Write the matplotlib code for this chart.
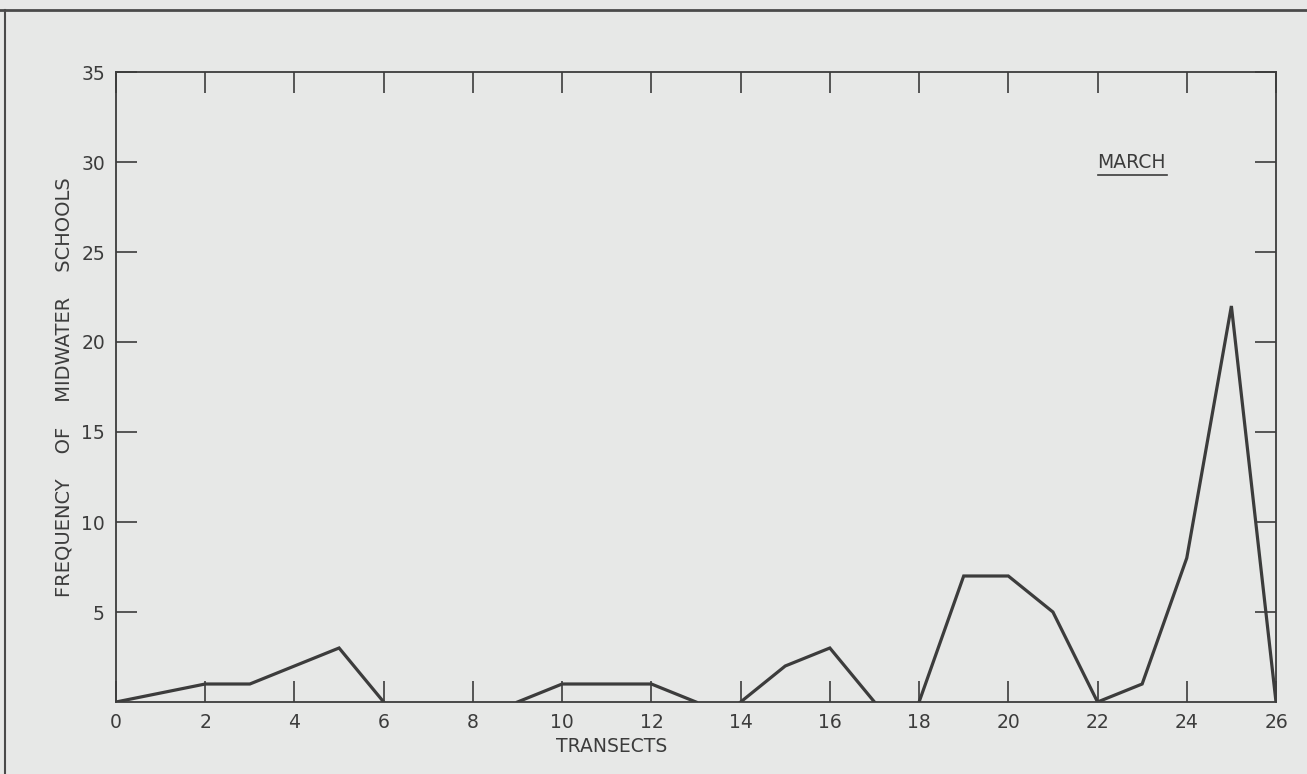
import matplotlib.pyplot as plt
from matplotlib.lines import Line2D

# Midwater school counts per transect, drawn as separate runs (gaps = no line)
seg_a_x = [0, 2, 3, 5, 6]
seg_a_y = [0, 1, 1, 3, 0]
seg_b_x = [9, 10, 12, 13]
seg_b_y = [0, 1, 1, 0]
seg_c_x = [14, 15, 16, 17]
seg_c_y = [0, 2, 3, 0]
seg_d_x = [18, 19, 20, 21, 22, 23, 24, 25, 26]
seg_d_y = [0, 7, 7, 5, 0, 1, 8, 22, 0]

x_ticks = list(range(0, 27, 2))
y_ticks = [5, 10, 15, 20, 25, 30, 35]

paper = "#e7e8e7"
ink = "#3c3c3c"

fig = plt.figure(figsize=(13.07, 7.74), dpi=100, facecolor=paper)
ax = fig.add_axes([116/1307, 1 - 702/774, 1160/1307, 630/774])
ax.set_facecolor(paper)

for xs, ys in [(seg_a_x, seg_a_y), (seg_b_x, seg_b_y),
               (seg_c_x, seg_c_y), (seg_d_x, seg_d_y)]:
    ax.plot(xs, ys, color=ink, lw=2.3, solid_joinstyle="miter", zorder=3)

ax.set_xlim(0, 26)
ax.set_ylim(0, 35)
ax.set_xticks(x_ticks)
ax.set_xticklabels([str(v) for v in x_ticks])
ax.set_yticks(y_ticks)
ax.set_yticklabels([str(v) for v in y_ticks])

for s in ax.spines.values():
    s.set_color(ink)
    s.set_linewidth(1.3)

ax.tick_params(axis="both", direction="in", length=15, width=1.2, color=ink,
               labelsize=13.5, labelcolor=ink, top=True, right=True)
ax.tick_params(axis="x", pad=8)
ax.tick_params(axis="y", pad=8)

ax.set_xlabel("TRANSECTS", fontsize=13.5, color=ink)
ax.xaxis.set_label_coords(0.427, -0.055)
ax.set_ylabel("FREQUENCY    OF    MIDWATER    SCHOOLS", fontsize=14, color=ink)
ax.yaxis.set_label_coords(-0.037, 0.5)

ax.text(22.0, 30.0, "MARCH", fontsize=13.5, color=ink, ha="left", va="center")
ax.plot([22.0, 23.55], [29.3, 29.3], color=ink, lw=1.2)

# page frame lines
fig.add_artist(Line2D([0, 1], [1 - 10/774, 1 - 10/774], transform=fig.transFigure,
                      color="#4a4a4a", lw=2.0))
fig.add_artist(Line2D([5/1307, 5/1307], [0, 1 - 10/774], transform=fig.transFigure,
                      color="#4a4a4a", lw=1.5))

fig.savefig("out.png", dpi=100, facecolor=paper)
